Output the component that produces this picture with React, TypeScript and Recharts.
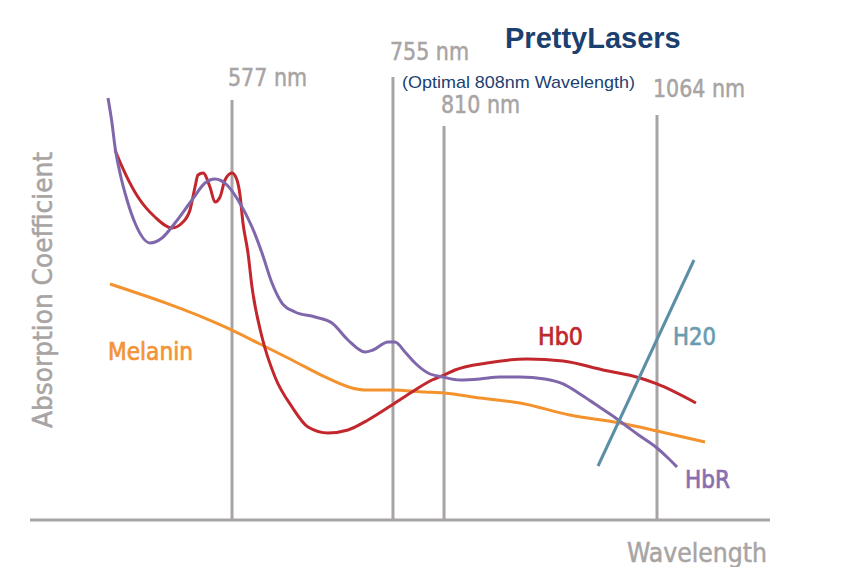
import { Line, LineChart, ReferenceDot, ReferenceLine, XAxis, YAxis } from "recharts";

type Pt = { x: number; y: number };

// x: relative position along the wavelength axis (0-100), y: relative absorption (0-100)
const hbrPoints: Pt[] = [
  { x: 10.54, y: 91.74 }, { x: 11.08, y: 86.3 }, { x: 11.49, y: 81.09 }, { x: 12.16, y: 75.43 },
  { x: 13.11, y: 69.57 }, { x: 14.19, y: 64.57 }, { x: 16.22, y: 60.22 }, { x: 17.84, y: 61.3 },
  { x: 19.59, y: 64.57 }, { x: 21.89, y: 69.57 }, { x: 23.65, y: 73.26 }, { x: 25.0, y: 74.13 },
  { x: 26.62, y: 72.83 }, { x: 28.11, y: 69.57 }, { x: 30.0, y: 63.7 }, { x: 31.35, y: 58.04 },
  { x: 32.7, y: 51.52 }, { x: 34.05, y: 47.17 }, { x: 35.81, y: 45.22 }, { x: 38.51, y: 44.13 },
  { x: 40.81, y: 42.83 }, { x: 42.97, y: 39.13 }, { x: 45.27, y: 36.52 }, { x: 46.35, y: 36.96 },
  { x: 48.38, y: 38.7 }, { x: 49.32, y: 38.7 }, { x: 50.68, y: 36.52 }, { x: 52.03, y: 34.13 },
  { x: 53.78, y: 31.96 }, { x: 55.81, y: 31.09 }, { x: 58.11, y: 30.43 }, { x: 60.81, y: 30.65 },
  { x: 63.51, y: 31.09 }, { x: 66.22, y: 31.09 }, { x: 69.59, y: 30.65 }, { x: 72.03, y: 29.57 },
  { x: 74.32, y: 27.39 }, { x: 76.35, y: 25.22 }, { x: 78.38, y: 23.04 }, { x: 80.41, y: 20.65 },
  { x: 82.43, y: 18.26 }, { x: 84.73, y: 15.65 }, { x: 86.22, y: 13.48 }, { x: 87.43, y: 11.52 },
];

const hboPoints: Pt[] = [
  { x: 11.49, y: 80.43 }, { x: 11.76, y: 79.35 }, { x: 12.84, y: 75.43 }, { x: 14.59, y: 70.22 },
  { x: 16.89, y: 65.87 }, { x: 19.19, y: 63.48 }, { x: 20.54, y: 64.57 }, { x: 21.62, y: 67.39 },
  { x: 22.3, y: 72.39 }, { x: 22.7, y: 75.0 }, { x: 23.38, y: 75.43 }, { x: 24.32, y: 72.39 },
  { x: 25.0, y: 69.13 }, { x: 25.68, y: 70.22 }, { x: 26.35, y: 73.91 }, { x: 27.3, y: 75.43 },
  { x: 27.97, y: 73.91 }, { x: 28.38, y: 70.65 }, { x: 28.78, y: 64.57 }, { x: 29.46, y: 58.04 },
  { x: 30.0, y: 50.65 }, { x: 31.35, y: 39.78 }, { x: 33.11, y: 31.09 }, { x: 35.41, y: 24.57 },
  { x: 37.57, y: 20.22 }, { x: 40.27, y: 18.91 }, { x: 42.97, y: 19.57 }, { x: 45.68, y: 21.74 },
  { x: 48.92, y: 25.0 }, { x: 51.62, y: 27.83 }, { x: 54.32, y: 30.43 }, { x: 55.95, y: 31.52 },
  { x: 57.43, y: 32.61 }, { x: 61.76, y: 34.13 }, { x: 67.16, y: 35.0 }, { x: 72.03, y: 34.57 },
  { x: 77.43, y: 32.61 }, { x: 82.43, y: 30.87 }, { x: 84.73, y: 29.57 }, { x: 89.99, y: 25.43 },
];

const melaninPoints: Pt[] = [
  { x: 10.81, y: 51.3 }, { x: 26.35, y: 41.96 }, { x: 30.81, y: 38.48 }, { x: 35.41, y: 34.78 },
  { x: 39.86, y: 31.09 }, { x: 43.51, y: 28.7 }, { x: 45.27, y: 28.26 }, { x: 48.92, y: 28.26 },
  { x: 53.38, y: 27.83 }, { x: 55.95, y: 27.61 }, { x: 60.81, y: 26.52 }, { x: 66.22, y: 25.43 },
  { x: 72.97, y: 22.83 }, { x: 79.73, y: 21.09 }, { x: 84.73, y: 19.35 }, { x: 91.22, y: 16.96 },
];

const waterPoints: Pt[] = [
  { x: 76.76, y: 11.74 },
  { x: 89.73, y: 56.52 },
];

const markerLabels = ["577 nm", "755 nm", "810 nm", "1064 nm"];
const markerPos = [27.3, 49.05, 55.95, 84.73];
const markerTop = [91.3, 96.3, 85.65, 88.04];

const seriesNames = ["Melanin", "Hb0", "H20", "HbR"];
const seriesLabelAt: Pt[] = [
  { x: 10.54, y: 34.78 },
  { x: 68.65, y: 38.04 },
  { x: 86.89, y: 38.04 },
  { x: 88.51, y: 6.96 },
];

const GREY = "#a8a4a3";
const NARROW = '"DejaVu Sans Condensed", "Liberation Sans Narrow", "Open Sans", sans-serif';
const markerText = [
  { dx: -4, dy: -14, w: 79 },
  { dx: -3, dy: -17, w: 79 },
  { dx: -3, dy: -13, w: 79 },
  { dx: -4, dy: -18, w: 92 },
];
const seriesText = [
  { color: "#f29437", w: 85 },
  { color: "#c0282e", w: 45 },
  { color: "#6a9cb1", w: 43 },
  { color: "#8a6fb0", w: 45 },
];

export default function App() {
  return (
    <div style={{ position: "absolute", left: 0, top: 0, width: 845, height: 567, background: "#fff" }}>
      <LineChart width={845} height={567} margin={{ top: 60, right: 75, left: 30, bottom: 0 }}>
        <XAxis
          type="number"
          dataKey="x"
          domain={[0, 100]}
          tick={false}
          tickLine={false}
          axisLine={{ stroke: GREY, strokeWidth: 3 }}
          height={47}
          allowDataOverflow
        />
        <YAxis type="number" dataKey="y" domain={[0, 100]} hide allowDataOverflow />
        {markerLabels.map((label, i) => (
          <ReferenceLine
            key={label}
            segment={[
              { x: markerPos[i], y: 0 },
              { x: markerPos[i], y: markerTop[i] },
            ]}
            stroke={GREY}
            strokeWidth={3}
            label={(p: any) => (
              <text
                x={p.viewBox.x + markerText[i].dx}
                y={p.viewBox.y + markerText[i].dy}
                fill={GREY}
                stroke={GREY}
                strokeWidth={0.5}
                fontSize={25}
                fontFamily={NARROW}
                textLength={markerText[i].w}
                lengthAdjust="spacingAndGlyphs"
              >
                {label}
              </text>
            )}
          />
        ))}
        <Line data={melaninPoints} dataKey="y" type="monotone" stroke="#f4922d" strokeWidth={3} dot={false} isAnimationActive={false} />
        <Line data={hboPoints} dataKey="y" type="monotone" stroke="#c1272d" strokeWidth={3} dot={false} isAnimationActive={false} />
        <Line data={hbrPoints} dataKey="y" type="monotone" stroke="#8066aa" strokeWidth={3} dot={false} isAnimationActive={false} />
        <Line data={waterPoints} dataKey="y" type="linear" stroke="#5b8fa5" strokeWidth={3} dot={false} isAnimationActive={false} />
        {seriesNames.map((name, i) => (
          <ReferenceDot
            key={name}
            x={seriesLabelAt[i].x}
            y={seriesLabelAt[i].y}
            r={0}
            fill="none"
            stroke="none"
            label={(p: any) => (
              <text
                x={p.viewBox.x}
                y={p.viewBox.y}
                fill={seriesText[i].color}
                stroke={seriesText[i].color}
                strokeWidth={0.7}
                fontSize={25}
                fontFamily={NARROW}
                textLength={seriesText[i].w}
                lengthAdjust="spacingAndGlyphs"
              >
                {name}
              </text>
            )}
          />
        ))}
      </LineChart>
      <svg width={845} height={567} style={{ position: "absolute", left: 0, top: 0, pointerEvents: "none" }}>
        <text x={505} y={48} fill="#1b3f6f" fontSize={29} fontWeight="bold" fontFamily='"Liberation Sans", Arial, sans-serif'>
          PrettyLasers
        </text>
        <text
          x={402}
          y={88}
          fill="#1b3f6f"
          fontSize={17}
          fontFamily='"Liberation Sans", Arial, sans-serif'
          textLength={233}
          lengthAdjust="spacingAndGlyphs"
        >
          (Optimal 808nm Wavelength)
        </text>
        <text
          x={52}
          y={290}
          transform="rotate(-90 52 290)"
          textAnchor="middle"
          fill={GREY}
          stroke={GREY}
          strokeWidth={0.5}
          fontSize={26}
          fontFamily={NARROW}
          textLength={276}
          lengthAdjust="spacingAndGlyphs"
        >
          Absorption Coefficient
        </text>
        <text
          x={627}
          y={562}
          fill={GREY}
          stroke={GREY}
          strokeWidth={0.5}
          fontSize={27}
          fontFamily={NARROW}
          textLength={140}
          lengthAdjust="spacingAndGlyphs"
        >
          Wavelength
        </text>
      </svg>
    </div>
  );
}
